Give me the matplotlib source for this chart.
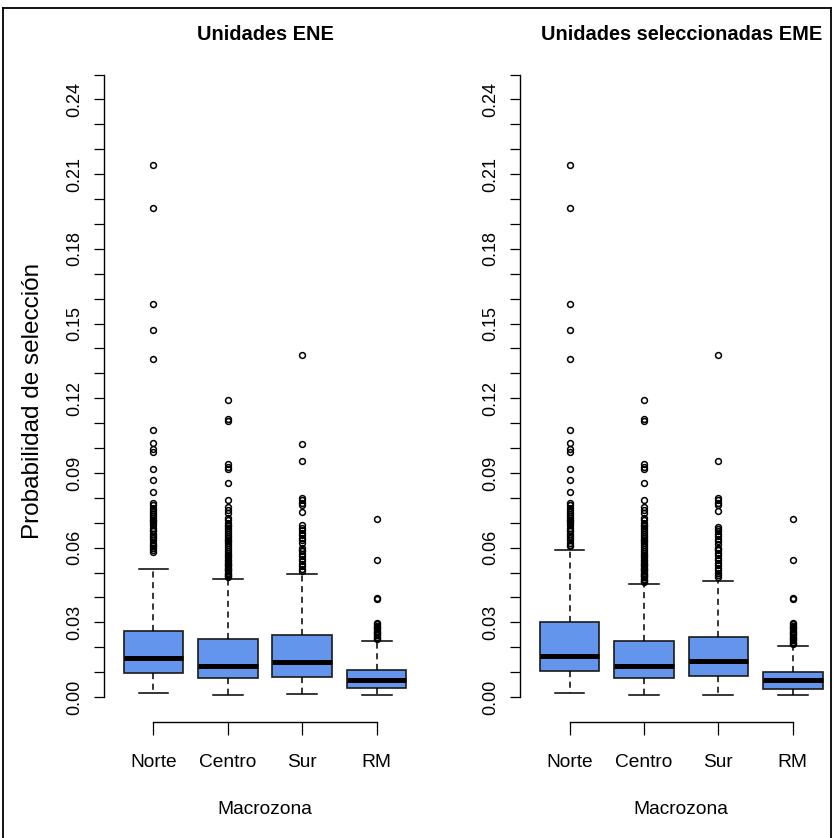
import numpy as np
import matplotlib
matplotlib.use("Agg")
import matplotlib.pyplot as plt
from matplotlib.lines import Line2D

plt.rcParams['font.family'] = ['Liberation Sans', 'DejaVu Sans']

categories = ["Norte", "Centro", "Sur", "RM"]
titles = ["Unidades ENE", "Unidades seleccionadas EME"]
xlabel = "Macrozona"
ylabel = "Probabilidad de selección"

# ---- Panel 1: Unidades ENE ----
ene_whislo = [0.0017, 0.0007, 0.0011, 0.0007]
ene_q1 = [0.0096, 0.0075, 0.0082, 0.0036]
ene_med = [0.0155, 0.0126, 0.0141, 0.0067]
ene_q3 = [0.0264, 0.0234, 0.0249, 0.0110]
ene_whishi = [0.0514, 0.0475, 0.0494, 0.0225]
ene_out_norte = [0.2136, 0.1964, 0.1577, 0.1473, 0.1357, 0.1073, 0.1020, 0.0996, 0.0985,
                 0.0915, 0.0870, 0.0825, 0.0779, 0.0770, 0.0760, 0.0750, 0.0742, 0.0735,
                 0.0728, 0.0720, 0.0712, 0.0705, 0.0698, 0.0690, 0.0680, 0.0672, 0.0665,
                 0.0655, 0.0645, 0.0638, 0.0630, 0.0620, 0.0612, 0.0605, 0.0598, 0.0590, 0.0582]
ene_out_centro = [0.1193, 0.1115, 0.1110, 0.0935, 0.0925, 0.0915, 0.0859, 0.0790, 0.0762,
                  0.0750, 0.0740, 0.0720, 0.0710, 0.0700, 0.0692, 0.0685, 0.0677, 0.0670,
                  0.0662, 0.0655, 0.0648, 0.0640, 0.0632, 0.0625, 0.0618, 0.0610, 0.0602,
                  0.0595, 0.0588, 0.0580, 0.0572, 0.0565, 0.0558, 0.0550, 0.0545, 0.0540,
                  0.0535, 0.0530, 0.0525, 0.0520, 0.0515, 0.0510, 0.0505, 0.0500, 0.0495,
                  0.0490, 0.0485, 0.0480]
ene_out_sur = [0.1372, 0.1015, 0.0949, 0.0799, 0.0790, 0.0780, 0.0771, 0.0744, 0.0690,
               0.0680, 0.0670, 0.0660, 0.0650, 0.0640, 0.0630, 0.0620, 0.0600, 0.0592,
               0.0585, 0.0575, 0.0565, 0.0555, 0.0545, 0.0535, 0.0525, 0.0515, 0.0505]
ene_out_rm = [0.0715, 0.0551, 0.0398, 0.0393, 0.0297, 0.0292, 0.0287, 0.0282, 0.0277,
              0.0272, 0.0267, 0.0262, 0.0257, 0.0252, 0.0247, 0.0242, 0.0237, 0.0232]

# ---- Panel 2: Unidades seleccionadas EME ----
eme_whislo = [0.0017, 0.0009, 0.0009, 0.0007]
eme_q1 = [0.0106, 0.0075, 0.0086, 0.0031]
eme_med = [0.0165, 0.0124, 0.0145, 0.0067]
eme_q3 = [0.0302, 0.0225, 0.0241, 0.0099]
eme_whishi = [0.0589, 0.0454, 0.0465, 0.0206]
eme_out_norte = [0.2136, 0.1964, 0.1577, 0.1473, 0.1357, 0.1073, 0.1020, 0.0996, 0.0985,
                 0.0915, 0.0870, 0.0825, 0.0779, 0.0770, 0.0760, 0.0750, 0.0742, 0.0735,
                 0.0728, 0.0720, 0.0712, 0.0705, 0.0698, 0.0690, 0.0680, 0.0672, 0.0665,
                 0.0655, 0.0645, 0.0638, 0.0630, 0.0620, 0.0612, 0.0605]
eme_out_centro = [0.1193, 0.1115, 0.1110, 0.0935, 0.0925, 0.0915, 0.0859, 0.0790, 0.0762,
                  0.0750, 0.0740, 0.0720, 0.0710, 0.0700, 0.0692, 0.0685, 0.0677, 0.0670,
                  0.0662, 0.0655, 0.0648, 0.0640, 0.0632, 0.0625, 0.0618, 0.0610, 0.0602,
                  0.0595, 0.0588, 0.0580, 0.0572, 0.0565, 0.0558, 0.0550, 0.0545, 0.0540,
                  0.0535, 0.0530, 0.0525, 0.0520, 0.0515, 0.0510, 0.0505, 0.0500, 0.0495,
                  0.0490, 0.0485, 0.0480, 0.0475, 0.0470, 0.0465, 0.0460]
eme_out_sur = [0.1372, 0.0949, 0.0799, 0.0790, 0.0780, 0.0771, 0.0747, 0.0684, 0.0675,
               0.0665, 0.0655, 0.0645, 0.0635, 0.0625, 0.0615, 0.0600, 0.0595, 0.0590,
               0.0580, 0.0570, 0.0560, 0.0550, 0.0540, 0.0530, 0.0520, 0.0510, 0.0500,
               0.0490, 0.0483]
eme_out_rm = [0.0715, 0.0551, 0.0398, 0.0393, 0.0297, 0.0292, 0.0287, 0.0282, 0.0277,
              0.0272, 0.0267, 0.0262, 0.0257, 0.0252, 0.0247, 0.0242, 0.0237, 0.0232,
              0.0227, 0.0222, 0.0217, 0.0212]

y_ticks = [round(0.01 * i, 2) for i in range(26)]
y_labeled = [0.00, 0.03, 0.06, 0.09, 0.12, 0.15, 0.18, 0.21, 0.24]


def make_stats(whislo, q1, med, q3, whishi, outs):
    stats = []
    for i in range(len(med)):
        stats.append(dict(whislo=whislo[i], q1=q1[i], med=med[i], q3=q3[i],
                          whishi=whishi[i], fliers=outs[i], label=categories[i]))
    return stats


panels = [
    make_stats(ene_whislo, ene_q1, ene_med, ene_q3, ene_whishi,
               [ene_out_norte, ene_out_centro, ene_out_sur, ene_out_rm]),
    make_stats(eme_whislo, eme_q1, eme_med, eme_q3, eme_whishi,
               [eme_out_norte, eme_out_centro, eme_out_sur, eme_out_rm]),
]

W, H = 833, 838
fig = plt.figure(figsize=(W / 100, H / 100), dpi=100)

ax_left_px = [104.3, 520.4]
ax_w_px = 321.5
ax_top_px, ax_bot_px = 49.6, 721.9

for k, stats in enumerate(panels):
    ax = fig.add_axes([ax_left_px[k] / W, 1 - ax_bot_px / H, ax_w_px / W,
                       (ax_bot_px - ax_top_px) / H])
    ax.bxp(stats, positions=[1, 2, 3, 4], widths=0.8, capwidths=0.4,
           patch_artist=True, showfliers=True,
           boxprops=dict(facecolor='#6495ED', edgecolor='#1a1a1a', linewidth=1.2),
           medianprops=dict(color='black', linewidth=3.6, solid_capstyle='butt'),
           whiskerprops=dict(color='black', linestyle=(0, (4, 3)), linewidth=1.1),
           capprops=dict(color='black', linewidth=1.1),
           flierprops=dict(marker='o', markerfacecolor='none', markeredgecolor='black',
                           markersize=4.2, markeredgewidth=1.1, linestyle='none'))
    ax.set_xlim(0.34, 4.66)
    ax.set_ylim(-0.01, 0.26)
    ax.patch.set_visible(False)
    for s in ['top', 'right']:
        ax.spines[s].set_visible(False)
    ax.spines['left'].set_bounds(0, 0.25)
    ax.spines['bottom'].set_bounds(1, 4)
    ax.spines['left'].set_linewidth(1.0)
    ax.spines['bottom'].set_linewidth(1.0)
    ax.set_yticks(y_ticks)
    ax.set_yticklabels([f"{t:.2f}" if any(abs(t - v) < 1e-9 for v in y_labeled) else ""
                        for t in y_ticks], rotation=90, va='center', fontsize=13)
    ax.set_xticks([1, 2, 3, 4])
    ax.set_xticklabels(categories, fontsize=13.8)
    ax.tick_params(axis='y', length=7.5, width=0.9, pad=8)
    ax.tick_params(axis='x', length=9, width=0.9, pad=14)
    cx = (ax_left_px[k] + ax_w_px / 2) / W
    fig.text(cx, 1 - 40.5 / H, titles[k], ha='center', va='baseline',
             fontsize=14.4, fontweight='bold')
    fig.text(cx, 1 - 814 / H, xlabel, ha='center', va='baseline', fontsize=13.8)
    if k == 0:
        fig.text(33 / W, 1 - 401 / H, ylabel, rotation=90,
                 ha='center', va='center', fontsize=17.5)

# figure border (cropped frame)
lw = 1.3
fig.add_artist(Line2D([2.5 / W, 2.5 / W], [0, 1 - 8 / H], color='black', lw=lw))
fig.add_artist(Line2D([2.5 / W, 830.5 / W], [1 - 8 / H, 1 - 8 / H], color='black', lw=lw))
fig.add_artist(Line2D([830.5 / W, 830.5 / W], [0, 1 - 8 / H], color='black', lw=lw))

fig.savefig("out.png", dpi=100)
